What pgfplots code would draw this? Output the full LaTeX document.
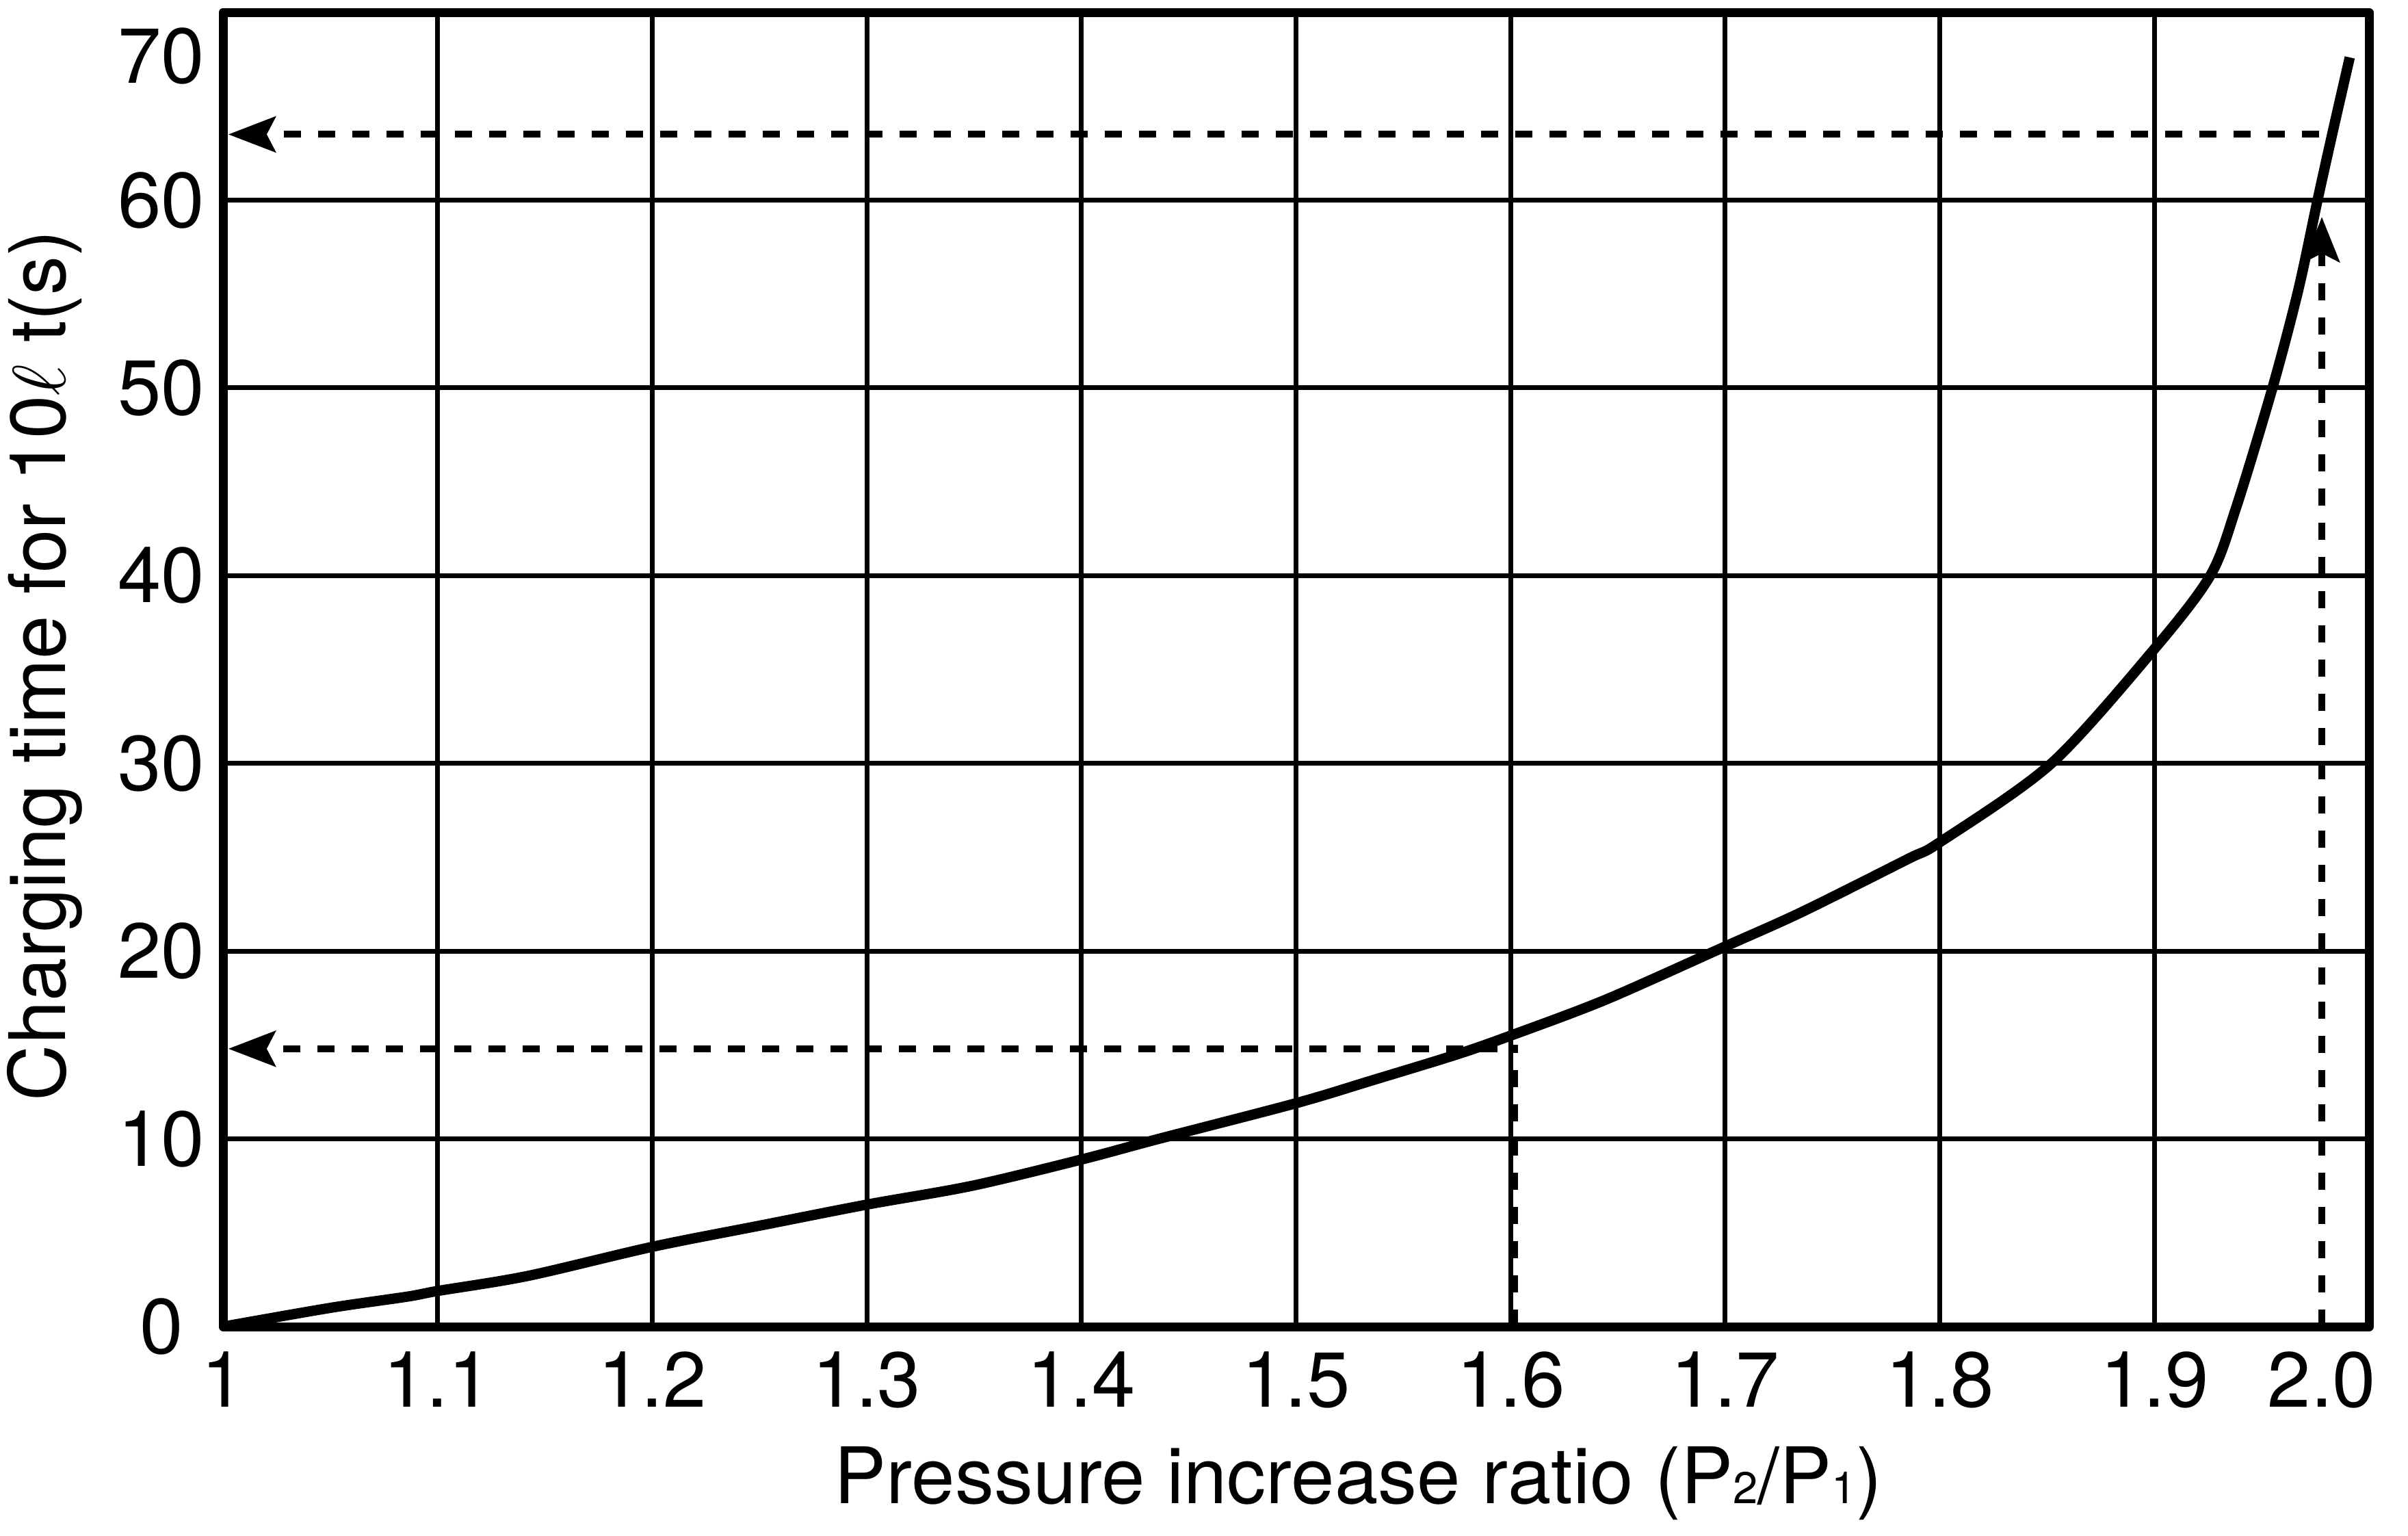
\documentclass[border=0pt]{standalone}
\usepackage{fontspec}
\setmainfont{TeX Gyre Heros}
\usepackage{pgfplots}
\pgfplotsset{compat=1.18}
\usetikzlibrary{arrows.meta}
\newcommand{\lblfont}{\fontsize{11.4}{13.7}\selectfont}
\newcommand{\subfont}{\fontsize{6.5}{7}\selectfont}
\begin{document}
\begin{tikzpicture}
\useasboundingbox (0,0) rectangle (352pt,224.4pt);
\begin{axis}[
  at={(32.6pt,30.5pt)}, anchor=south west,
  scale only axis, width=313.7pt, height=192.1pt,
  xmin=1, xmax=2.0, ymin=0, ymax=70,
  axis line style={line width=1.3pt, line join=round},
  grid=major,
  major grid style={line width=0.7pt, black},
  major tick length=0pt,
  xtick={1,1.1,1.2,1.3,1.4,1.5,1.6,1.7,1.8,1.9},
  xticklabels={1,1.1,1.2,1.3,1.4,1.5,1.6,1.7,1.8,1.9},
  extra x ticks={1.978},
  extra x tick labels={2.0},
  extra x tick style={grid=none},
  ytick={0,10,20,30,40,50,60,70},
  yticklabels={{0\hspace*{3.1pt}},10,20,30,40,50,60,\raisebox{-6.3pt}[8pt][0pt]{70}},
  xticklabel style={font=\lblfont, inner sep=0pt, yshift=-3.5pt},
  yticklabel style={font=\lblfont, inner sep=0pt, xshift=-2.5pt},
  xlabel={Pressure increase ratio (P{\subfont 2}/P{\subfont 1})},
  ylabel={Charging time for 10$\ell$ t(s)},
  xlabel style={font=\lblfont, at={(axis description cs:0.529,-0.1348)}, anchor=base},
  ylabel style={font=\lblfont, at={(axis description cs:-0.0736,0.503)}, anchor=base},
]
\addplot[black, line width=1.5pt, smooth, tension=0.5] coordinates {
(1.000,0.0) (1.050,1.0) (1.086,1.6) (1.100,1.9) (1.142,2.7) (1.200,4.25)
(1.251,5.4) (1.300,6.5) (1.349,7.5) (1.400,8.9) (1.436,10.0) (1.500,11.9)
(1.535,13.1) (1.575,14.5) (1.600,15.5) (1.644,17.4) (1.700,20.25) (1.736,22.1)
(1.785,24.9) (1.800,25.8) (1.852,30.0) (1.900,36.1) (1.926,40.0)
(1.938,43.6) (1.955,50.0) (1.967,55.2) (1.976,60.0) (1.983,63.6) (1.991,67.6)
};
% upper annotation
\addplot[black, line width=1pt, dash pattern=on 2.5pt off 2.5pt,
  -{Stealth[length=6.9pt,width=5.2pt,inset=1.3pt]}] coordinates {(1.9766,63.5) (1.0025,63.5)};
\addplot[black, line width=1pt, dash pattern=on 2.5pt off 2.5pt,
  -{Stealth[length=6.6pt,width=5.2pt,inset=1.3pt]}] coordinates {(1.978,0) (1.978,59.1)};
% lower annotation
\addplot[black, line width=1pt, dash pattern=on 2.5pt off 2.5pt,
  -{Stealth[length=6.9pt,width=5.2pt,inset=1.3pt]}] coordinates {(1.594,14.8) (1.0025,14.8)};
\addplot[black, line width=1pt, dash pattern=on 2.5pt off 2.5pt] coordinates {(1.6017,0) (1.6017,15.0)};
\end{axis}
\end{tikzpicture}
\end{document}
